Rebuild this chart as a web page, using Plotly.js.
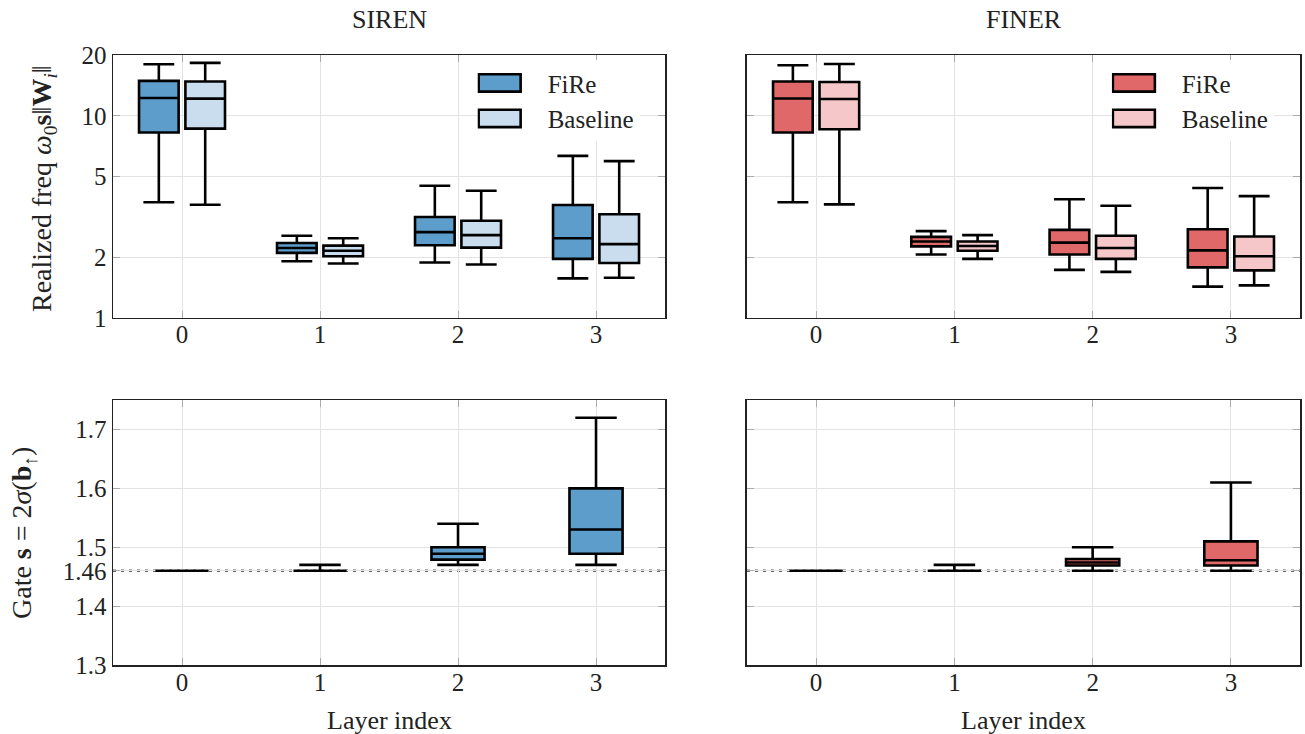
<!DOCTYPE html>
<html>
<head>
<meta charset="utf-8">
<script src="https://cdn.plot.ly/plotly-3.0.1.min.js"></script>
<style>
html,body{margin:0;padding:0;background:#fff;}
#chart{width:1305px;height:734px;}
#chart text{font-family:"Liberation Serif", serif !important;}
#chart .legendpoints path{transform:translate(22px,0) scale(3.5,1.45);vector-effect:non-scaling-stroke;stroke-width:2.6px !important;}
</style>
</head>
<body>
<div id="chart"></div>
<script>
// ---------- DATA ----------
const layers = [0, 1, 2, 3];
const layerLabels = ["0", "1", "2", "3"];
const freqTicks = [1, 2, 5, 10, 20];
const gateTicks = [1.3, 1.4, 1.46, 1.5, 1.6, 1.7];
const gateRef = 1.46;

// Realized frequency (top row) — SIREN
const sirenFireLow = [3.74, 1.91, 1.88, 1.57];
const sirenFireQ1  = [8.27, 2.10, 2.29, 1.96];
const sirenFireMed = [12.27, 2.22, 2.66, 2.48];
const sirenFireQ3  = [14.9, 2.35, 3.16, 3.62];
const sirenFireHigh= [18.0, 2.55, 4.51, 6.34];

const sirenBaseLow = [3.63, 1.86, 1.84, 1.58];
const sirenBaseQ1  = [8.65, 2.02, 2.23, 1.87];
const sirenBaseMed = [12.17, 2.15, 2.57, 2.32];
const sirenBaseQ3  = [14.8, 2.28, 3.03, 3.26];
const sirenBaseHigh= [18.3, 2.48, 4.26, 5.97];

// Realized frequency (top row) — FINER
const finerFireLow = [3.74, 2.06, 1.73, 1.43];
const finerFireQ1  = [8.27, 2.26, 2.06, 1.78];
const finerFireMed = [12.2, 2.39, 2.36, 2.16];
const finerFireQ3  = [14.8, 2.52, 2.73, 2.75];
const finerFireHigh= [17.8, 2.69, 3.87, 4.40];

const finerBaseLow = [3.65, 1.96, 1.69, 1.45];
const finerBaseQ1  = [8.59, 2.15, 1.96, 1.72];
const finerBaseMed = [12.13, 2.27, 2.22, 2.02];
const finerBaseQ3  = [14.7, 2.39, 2.55, 2.53];
const finerBaseHigh= [18.06, 2.57, 3.59, 4.01];

// Gate (bottom row) — SIREN FiRe
const sirenGateLow = [1.46, 1.46, 1.47, 1.47];
const sirenGateQ1  = [1.46, 1.46, 1.479, 1.489];
const sirenGateMed = [1.46, 1.46, 1.489, 1.53];
const sirenGateQ3  = [1.46, 1.46, 1.50, 1.60];
const sirenGateHigh= [1.46, 1.47, 1.54, 1.72];

// Gate (bottom row) — FINER FiRe
const finerGateLow = [1.46, 1.46, 1.46, 1.46];
const finerGateQ1  = [1.46, 1.46, 1.469, 1.469];
const finerGateMed = [1.46, 1.46, 1.474, 1.478];
const finerGateQ3  = [1.46, 1.46, 1.48, 1.51];
const finerGateHigh= [1.46, 1.47, 1.50, 1.61];

// ---------- STYLE ----------
const FONT = "Liberation Serif";
const TXT = "#222";
const blueDark = "#5D9DCB", blueLight = "#C9DDEE";
const redDark = "#E06868", redLight = "#F5C7C9";
const pairOffset = 0.168, pairWidth = 0.287, singleWidth = 0.385;

function box(name, low, q1, med, q3, high, offset, width, fill, xa, ya, legend, show) {
  return {
    type: "box", name: name,
    x: layers.map(v => v + offset),
    lowerfence: low, q1: q1, median: med, q3: q3, upperfence: high,
    width: width, whiskerwidth: 0.78, boxpoints: false,
    fillcolor: fill, line: {color: "#000", width: 2.6},
    xaxis: xa, yaxis: ya, legend: legend, showlegend: show, hoverinfo: "skip"
  };
}

const data = [
  box("FiRe", sirenFireLow, sirenFireQ1, sirenFireMed, sirenFireQ3, sirenFireHigh, -pairOffset, pairWidth, blueDark, "x", "y", "legend", true),
  box("Baseline", sirenBaseLow, sirenBaseQ1, sirenBaseMed, sirenBaseQ3, sirenBaseHigh, pairOffset, pairWidth, blueLight, "x", "y", "legend", true),
  box("FiRe", finerFireLow, finerFireQ1, finerFireMed, finerFireQ3, finerFireHigh, -pairOffset, pairWidth, redDark, "x2", "y2", "legend2", true),
  box("Baseline", finerBaseLow, finerBaseQ1, finerBaseMed, finerBaseQ3, finerBaseHigh, pairOffset, pairWidth, redLight, "x2", "y2", "legend2", true),
  box("FiRe", sirenGateLow, sirenGateQ1, sirenGateMed, sirenGateQ3, sirenGateHigh, 0, singleWidth, blueDark, "x3", "y3", "legend", false),
  box("FiRe", finerGateLow, finerGateQ1, finerGateMed, finerGateQ3, finerGateHigh, 0, singleWidth, redDark, "x4", "y4", "legend2", false)
];

const gridC = "#e3e3e3";
function common() {
  return {
    showgrid: true, gridcolor: gridC, gridwidth: 1, zeroline: false,
    showline: true, linecolor: "#222", linewidth: 1.5, mirror: "ticks",
    ticks: "inside", ticklen: 7, tickcolor: "#aaa", tickwidth: 1,
    tickfont: {family: FONT, size: 25, color: TXT}
  };
}
function xax(domain, anchor) {
  return Object.assign(common(), {
    domain: domain, anchor: anchor, range: [-0.5, 3.5],
    tickmode: "array", tickvals: layers, ticktext: layerLabels, ticklabelstandoff: -6
  });
}
function yaxLog(domain, anchor, labels) {
  return Object.assign(common(), {
    domain: domain, anchor: anchor, type: "log", range: [0, Math.log10(20)],
    tickmode: "array", tickvals: freqTicks, ticktext: freqTicks.map(String),
    showticklabels: labels
  });
}
function yaxGate(domain, anchor, labels) {
  return Object.assign(common(), {
    domain: domain, anchor: anchor, range: [1.3, 1.75],
    tickmode: "array", tickvals: gateTicks, ticktext: gateTicks.map(String),
    showticklabels: labels
  });
}

const leftX = [0.0866, 0.5096], rightX = [0.5724, 0.9962];
const topY = [0.5668, 0.925], botY = [0.094, 0.455];

function note(text, x, y, angle, size) {
  return {text: text, xref: "paper", yref: "paper", x: x, y: y, xanchor: "center", yanchor: "middle",
          textangle: angle || 0, showarrow: false, font: {family: FONT, size: size || 26, color: TXT}};
}

const layout = {
  width: 1305, height: 734,
  margin: {l: 0, r: 0, t: 0, b: 0},
  paper_bgcolor: "#fff", plot_bgcolor: "#fff",
  font: {family: FONT, size: 25, color: TXT},
  boxmode: "overlay",
  xaxis: xax(leftX, "y"), yaxis: yaxLog(topY, "x", true),
  xaxis2: xax(rightX, "y2"), yaxis2: yaxLog(topY, "x2", false),
  xaxis3: xax(leftX, "y3"), yaxis3: yaxGate(botY, "x3", true),
  xaxis4: xax(rightX, "y4"), yaxis4: yaxGate(botY, "x4", false),
  legend: {x: 0.366, y: 0.918, xanchor: "left", yanchor: "top", bgcolor: "#fff",
           font: {family: FONT, size: 25, color: TXT}, tracegroupgap: 0, itemwidth: 60},
  legend2: {x: 0.852, y: 0.918, xanchor: "left", yanchor: "top", bgcolor: "#fff",
            font: {family: FONT, size: 25, color: TXT}, tracegroupgap: 0, itemwidth: 60},
  shapes: [
    {type: "line", xref: "x3 domain", yref: "y3", x0: 0, x1: 1, y0: gateRef, y1: gateRef,
     line: {color: "#666", width: 2.5, dash: "3px,5px"}, layer: "below"},
    {type: "line", xref: "x4 domain", yref: "y4", x0: 0, x1: 1, y0: gateRef, y1: gateRef,
     line: {color: "#666", width: 2.5, dash: "3px,5px"}, layer: "below"}
  ],
  annotations: [
    note("SIREN", (leftX[0] + leftX[1]) / 2, 1 - 20 / 734),
    note("FINER", (rightX[0] + rightX[1]) / 2, 1 - 20 / 734),
    note("Layer index", (leftX[0] + leftX[1]) / 2, 1 - 720 / 734),
    note("Layer index", (rightX[0] + rightX[1]) / 2, 1 - 720 / 734),
    note("Realized freq <i>ω</i><sub>0</sub><b>s</b>‖<b>W</b><sub><i>i</i></sub>‖", 43 / 1305, 1 - 189 / 734, -90, 28),
    note("Gate <b>s</b> = 2<i>σ</i>(<b>b</b><sub>↑</sub>)", 23 / 1305, 1 - 533 / 734, -90, 28)
  ]
};

Plotly.newPlot("chart", data, layout, {staticPlot: true, displayModeBar: false});
</script>
</body>
</html>
